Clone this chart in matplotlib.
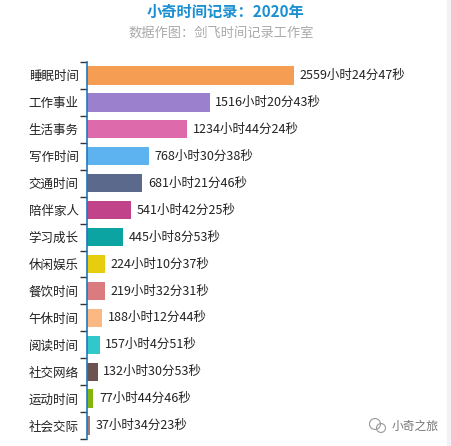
import numpy as np
import matplotlib
matplotlib.use("Agg")
from matplotlib import pyplot as plt
from matplotlib.patches import Rectangle, Circle

plt.rcParams['font.family'] = ['Noto Sans CJK SC', 'DejaVu Sans']

categories = ['睡眠时间', '工作事业', '生活事务', '写作时间', '交通时间', '陪伴家人', '学习成长',
              '休闲娱乐', '餐饮时间', '午休时间', '阅读时间', '社交网络', '运动时间', '社会交际']
hours = [2559, 1516, 1234, 768, 681, 541, 445, 224, 219, 188, 157, 132, 77, 37]
minutes = [24, 20, 44, 30, 21, 42, 8, 10, 32, 12, 4, 30, 44, 34]
seconds = [47, 43, 24, 38, 46, 25, 53, 37, 31, 44, 51, 53, 46, 23]
colors = ['#F59D52', '#9B80CE', '#DD6AAB', '#5CB3EF', '#5B698C', '#C1438A', '#0BA4A3',
          '#E6CD0E', '#DA7B80', '#FBB882', '#30C8CA', '#6D5350', '#82B60F', '#A07B74']

values = np.array(hours) + np.array(minutes) / 60. + np.array(seconds) / 3600.
labels = ['%d小时%d分%d秒' % (h, m, s) for h, m, s in zip(hours, minutes, seconds)]

W, H = 451, 446
fig = plt.figure(figsize=(W / 100., H / 100.), dpi=100)

# light strip on the right edge
fig.patches.append(Rectangle((447. / W, 0), 4. / W, 1, transform=fig.transFigure,
                             color='#F2F2F6', zorder=0))

ax = fig.add_axes([87. / W, 7. / H, 353. / W, 377. / H])

y = np.arange(len(categories))
ax.barh(y, values, height=0.68, color=colors, zorder=2)
for yi, v, lab in zip(y, values, labels):
    ax.text(v + 70, yi, lab, va='center', ha='left', fontsize=9, color='#222222')

ax.set_xlim(0, 2559.4 * 353. / 207.)
ax.set_ylim(len(categories) - 0.5, -0.5)
ax.set_yticks(y)
ax.set_yticklabels(categories, fontsize=9, color='#222222')
ax.set_yticks(np.arange(len(categories) + 1) - 0.5, minor=True)
ax.tick_params(axis='y', which='major', length=0, pad=6)
ax.tick_params(axis='y', which='minor', length=5, width=1, color='#333333')
ax.set_xticks([])
for s in ['top', 'right', 'bottom']:
    ax.spines[s].set_visible(False)
ax.spines['left'].set_color('#2277BB')
ax.spines['left'].set_linewidth(1.2)

fig.text(225. / W, 1 - 12. / H, '小奇时间记录：2020年', ha='center', va='center',
         fontsize=11, fontweight='bold', color='#1A8FD2')
fig.text(221. / W, 1 - 33. / H, '数据作图：剑飞时间记录工作室', ha='center', va='center',
         fontsize=9.5, color='#AAAAAA')

# watermark
fig.patches.append(Circle((375. / W, 1 - 424. / H), 5.5 / W, transform=fig.transFigure,
                          fill=False, ec='#999999', lw=0.8))
fig.patches.append(Circle((381. / W, 1 - 428. / H), 4.5 / W, transform=fig.transFigure,
                          fill=False, ec='#999999', lw=0.8))
fig.text(392. / W, 1 - 426. / H, '小奇之旅', ha='left', va='center', fontsize=8.5, color='#777777')

plt.savefig('out.png', dpi=100)
